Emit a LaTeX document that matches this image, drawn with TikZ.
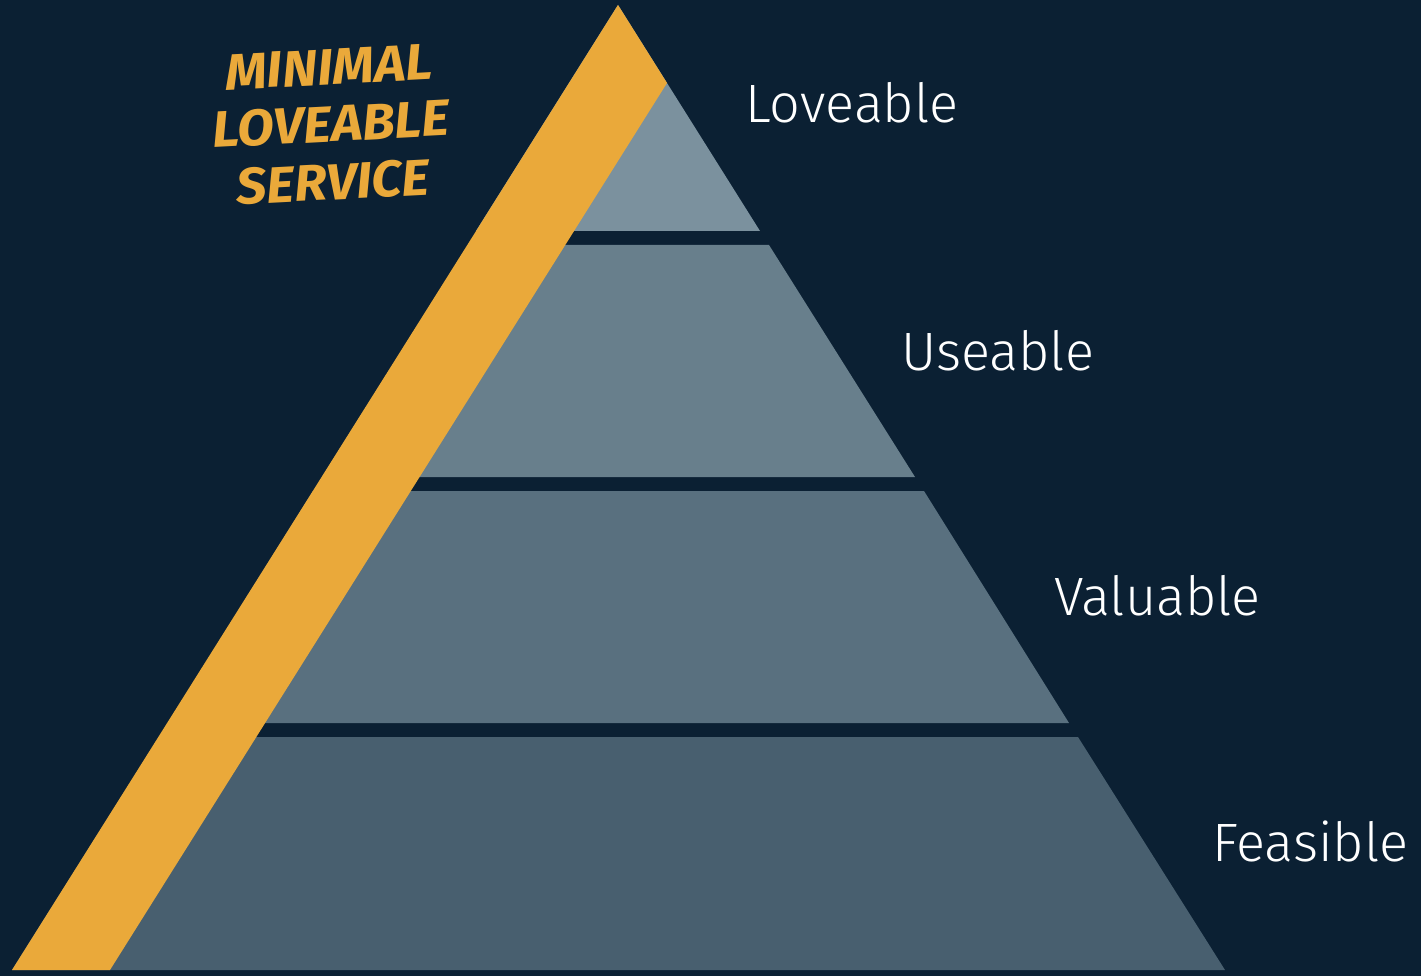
\documentclass[tikz,border=0pt]{standalone}
\usepackage{fontspec}
\newfontfamily\labelfont{Fira Sans Light}
\newfontfamily\handfont{Fira Sans}[UprightFont=* Bold Italic]
\definecolor{bg}{HTML}{0B2033}
\definecolor{orangeband}{HTML}{EAA93A}
\definecolor{tierA}{HTML}{7B919E}
\definecolor{tierB}{HTML}{687F8C}
\definecolor{tierC}{HTML}{59707F}
\definecolor{tierD}{HTML}{485F6F}
\tikzset{
  tierlabel/.style={anchor=base west, text=white, font=\labelfont\fontsize{54}{58}\selectfont, inner sep=0pt},
  handline/.style={text=orangeband, font=\handfont\fontsize{51}{53}\selectfont, inner sep=0pt, rotate=3, xscale=1.05},
}
\begin{document}
\begin{tikzpicture}[x=1pt,y=-1pt]
\fill[bg] (0,0) rectangle (1421,976);
\useasboundingbox (0,0) rectangle (1421,976);
% pyramid tiers
\coordinate (apex) at (618,5);
\fill[tierA] (apex) -- (760,231) -- (476,231) -- cycle;
\fill[tierB] (468,245) -- (769,245) -- (915,477) -- (322,477) -- cycle;
\fill[tierC] (313,491) -- (924,491) -- (1069,723) -- (168,723) -- cycle;
\fill[tierD] (159,737) -- (1078,737) -- (1225,970) -- (12,970) -- cycle;
% orange band
\fill[orangeband] (apex) -- (667,83) -- (110,970) -- (12,970) -- cycle;
% labels
\node[tierlabel] (lov) at (745,123) {Loveable};
\node[tierlabel] (use) at (901,370) {Useable};
\node[tierlabel] (val) at (1054,615) {Valuable};
\node[tierlabel] (fea) at (1212,861) {Feasible};
% handwritten title
\node[handline] (m1) at (329,67) {MINIMAL};
\node[handline] (m2) at (331,124) {LOVEABLE};
\node[handline] (m3) at (333,182) {SERVICE};
\end{tikzpicture}
\end{document}
